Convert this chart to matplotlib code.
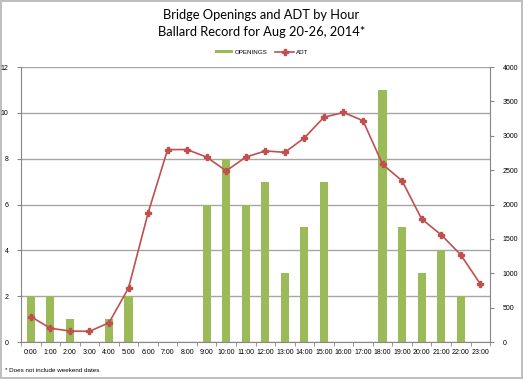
import matplotlib
matplotlib.use("Agg")
import matplotlib.pyplot as plt
import numpy as np

hours = [f"{h}:00" for h in range(24)]
openings = [2, 2, 1, 0, 1, 2, 0, 0, 0, 6, 8, 6, 7, 3, 5, 7, 0, 0, 11, 5, 3, 4, 2, 0]
adt = [370, 200, 160, 155, 280, 785, 1875, 2800, 2800, 2690, 2490, 2690, 2780, 2760,
       2970, 3270, 3340, 3220, 2585, 2345, 1790, 1560, 1270, 845]

BAR_COLOR = "#9BBB59"
LINE_COLOR = "#C0504D"
GRID_COLOR = "#A6A6A6"
AXIS_COLOR = "#868686"

plt.rcParams['font.family'] = ['Liberation Sans', 'DejaVu Sans']

fig = plt.figure(figsize=(5.23, 3.79), dpi=100)
fig.patch.set_edgecolor("#BFBFBF")
fig.patch.set_linewidth(1.5)

ax = fig.add_axes([0.0402, 0.0976, 0.8968, 0.7254])
ax2 = ax.twinx()

x = np.arange(len(hours))
ax.bar(x, openings, width=0.42, color=BAR_COLOR, label="OPENINGS", zorder=2)
ax.set_ylim(0, 12)
ax.set_xlim(-0.5, len(hours) - 0.5)
ax.set_yticks(range(0, 13, 2))
ax.yaxis.grid(True, color=GRID_COLOR, linewidth=1.0, zorder=0)
ax.set_axisbelow(True)

ax.set_xticks(x)
ax.set_xticklabels(hours, fontsize=5)
ax.set_xticks(np.arange(-0.5, len(hours)), minor=True)
ax.tick_params(axis='x', which='major', length=0, pad=5)
ax.tick_params(axis='x', which='minor', length=3, color=AXIS_COLOR)
ax.tick_params(axis='y', length=3, color=AXIS_COLOR, labelsize=5, pad=6)

ax2.plot(x, adt, color=LINE_COLOR, linewidth=1.2, marker='P', markersize=4,
         label="ADT", zorder=3)
ax2.set_ylim(0, 4000)
ax2.set_yticks(range(0, 4001, 500))
ax2.tick_params(axis='y', length=3, color=AXIS_COLOR, labelsize=5, pad=6)

for a in (ax, ax2):
    a.spines['top'].set_visible(False)
    for s in ('left', 'right', 'bottom'):
        a.spines[s].set_color(AXIS_COLOR)
ax.spines['right'].set_visible(False)
ax2.spines['left'].set_visible(False)
ax2.spines['bottom'].set_visible(False)

fig.text(0.5, 0.96, "Bridge Openings and ADT by Hour", ha='center', va='center',
         fontsize=9.3, family=['Lato', 'DejaVu Sans'])
fig.text(0.5, 0.915, "Ballard Record for Aug 20-26, 2014*", ha='center', va='center',
         fontsize=9.3, family=['Lato', 'DejaVu Sans'])

h1, l1 = ax.get_legend_handles_labels()
h2, l2 = ax2.get_legend_handles_labels()
fig.legend(h1 + h2, l1 + l2, loc='center', bbox_to_anchor=(0.5, 0.862), ncol=2,
           frameon=False, fontsize=4.5, handlelength=3, handleheight=0.5,
           columnspacing=1.2, handletextpad=0.3)

fig.text(0.01, 0.022, "* Does not include weekend dates", fontsize=4.5, ha='left', va='center')

fig.savefig("out.png", dpi=100, edgecolor=fig.get_edgecolor())
